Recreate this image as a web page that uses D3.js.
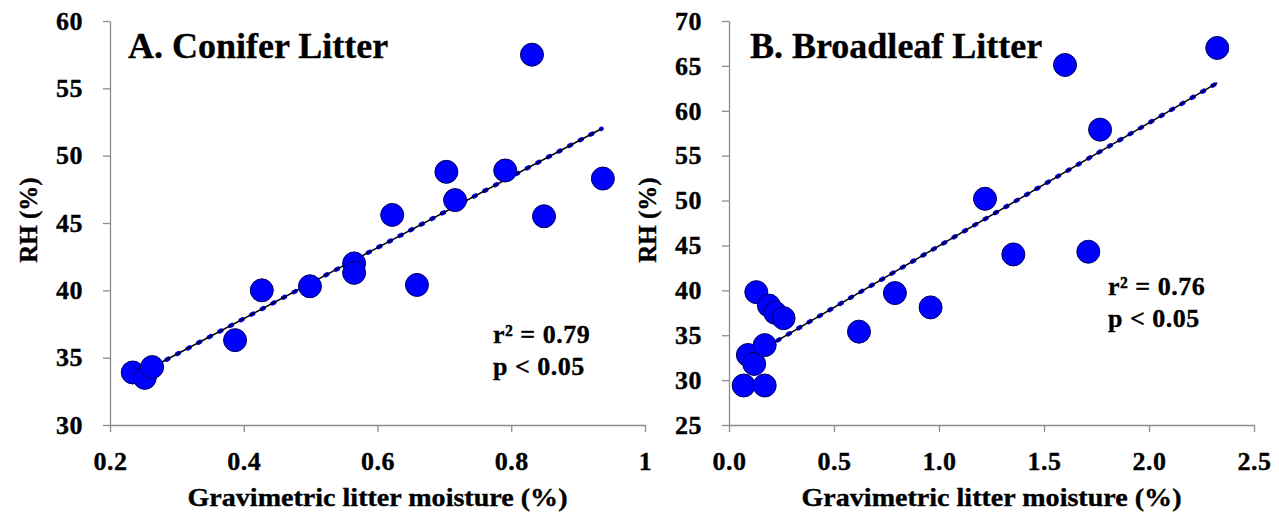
<!DOCTYPE html>
<html>
<head>
<meta charset="utf-8">
<script src="https://cdn.jsdelivr.net/npm/d3@7"></script>
<style>
  body { margin: 0; background: #fff; }
  svg text { font-family: "Liberation Serif", "Times New Roman", serif; font-weight: bold; fill: #000; stroke: #000; stroke-width: 0.35px; }
</style>
</head>
<body>
<div id="chart"></div>
<script>
// panel A - conifer litter
const coniferMoisture = [0.234, 0.252, 0.263, 0.387, 0.427, 0.499, 0.565, 0.565, 0.659, 0.622, 0.703, 0.716, 0.791, 0.831, 0.937, 0.849];
const coniferRH       = [33.9, 33.5, 34.3, 36.3, 40.0, 40.3, 42.0, 41.3, 40.4, 45.6, 48.8, 46.7, 48.9, 57.5, 48.3, 45.5];
const coniferTrendX = [0.237, 0.935];
const coniferTrendY = [33.6, 52.0];
const coniferXTicks = [0.2, 0.4, 0.6, 0.8, 1];
const coniferYTicks = [30, 35, 40, 45, 50, 55, 60];

// panel B - broadleaf litter
const broadleafMoisture = [0.13, 0.19, 0.22, 0.26, 0.09, 0.12, 0.17, 0.07, 0.17, 0.619, 0.790, 0.960, 1.219, 1.354, 1.711, 1.767, 1.60, 2.325];
const broadleafRH       = [39.8, 38.3, 37.5, 36.9, 32.8, 31.8, 33.9, 29.4, 29.4, 35.4, 39.7, 38.1, 50.2, 44.0, 44.3, 57.9, 65.1, 67.0];
const broadleafTrendX = [0.084, 2.325];
const broadleafTrendY = [32.4, 63.1];
const broadleafXTicks = [0.0, 0.5, 1.0, 1.5, 2.0, 2.5];
const broadleafYTicks = [25, 30, 35, 40, 45, 50, 55, 60, 65, 70];

const panelTitles = ["A. Conifer Litter", "B. Broadleaf Litter"];
const statLines = [["r\u00B2 = 0.79", "p < 0.05"], ["r\u00B2 = 0.76", "p < 0.05"]];
const xTitle = "Gravimetric litter moisture (%)";
const yTitle = "RH (%)";

const svg = d3.select('#chart').append('svg')
    .attr('width', 1279)
    .attr('height', 519);

function drawPanel(cfg) {
    const x = d3.scaleLinear().domain(cfg.xDomain).range(cfg.xRange);
    const y = d3.scaleLinear().domain(cfg.yDomain).range([425, 21]);
    const g = svg.append('g');

    const xAxis = g.append('g')
        .attr('transform', `translate(0, ${y(cfg.yDomain[0])})`)
        .call(d3.axisBottom(x).tickValues(cfg.xTicks).tickSize(7).tickPadding(20).tickFormat(cfg.xFormat).tickSizeOuter(0));
    const yAxis = g.append('g')
        .attr('transform', `translate(${x(cfg.xDomain[0])}, 0)`)
        .call(d3.axisLeft(y).tickValues(cfg.yTicks).tickSize(7).tickPadding(20).tickSizeOuter(0));

    [xAxis, yAxis].forEach(a => {
        a.select('.domain').attr('stroke', '#8c8c8c').attr('stroke-width', 1.3);
        a.selectAll('.tick line').attr('stroke', '#8c8c8c').attr('stroke-width', 1.3);
        a.selectAll('.tick text')
            .attr('fill', '#000')
            .style('font-family', '"Liberation Serif", "Times New Roman", serif')
            .style('font-weight', 'bold')
            .style('font-size', '26px')
            .style('letter-spacing', '0.5px');
    });

    // trend line: blue dotted with a thin black line on top
    const trend = cfg.trendX.map((v, i) => [v, cfg.trendY[i]]);
    const line = d3.line().x(d => x(d[0])).y(d => y(d[1]));
    g.append('path').datum(trend)
        .attr('d', line)
        .attr('fill', 'none')
        .attr('stroke', '#0000ff')
        .attr('stroke-width', 4.5)
        .attr('stroke-linecap', 'round')
        .attr('stroke-dasharray', '2,10');
    g.append('path').datum(trend)
        .attr('d', line)
        .attr('fill', 'none')
        .attr('stroke', '#000')
        .attr('stroke-width', 1.5);

    const pts = cfg.xs.map((v, i) => ({x: v, y: cfg.ys[i]}));
    g.selectAll('circle.pt').data(pts).enter().append('circle')
        .attr('class', 'pt')
        .attr('cx', d => x(d.x))
        .attr('cy', d => y(d.y))
        .attr('r', 11.5)
        .attr('fill', '#0000ff')
        .attr('stroke', '#00005a')
        .attr('stroke-width', 1);

    g.append('text')
        .attr('x', cfg.titleX)
        .attr('y', 58)
        .style('font-size', '36px')
        .text(cfg.title);

    cfg.stats.forEach((s, i) => {
        g.append('text')
            .attr('x', cfg.statX)
            .attr('y', cfg.statY + i * 32)
            .style('font-size', '26px')
            .style('letter-spacing', '0.5px')
            .text(s);
    });

    g.append('text')
        .attr('x', (cfg.xRange[0] + cfg.xRange[1]) / 2 - 190)
        .attr('y', 506)
        .attr('textLength', 380)
        .attr('lengthAdjust', 'spacingAndGlyphs')
        .style('font-size', '25px')
        .text(xTitle);

    g.append('text')
        .attr('text-anchor', 'middle')
        .attr('transform', `translate(${cfg.yTitleX}, 220) rotate(-90)`)
        .style('font-size', '25px')
        .text(yTitle);
}

drawPanel({
    xDomain: [0.2, 1], xRange: [110, 645], yDomain: [30, 60],
    xTicks: coniferXTicks, yTicks: coniferYTicks, xFormat: d3.format('~g'),
    xs: coniferMoisture, ys: coniferRH, trendX: coniferTrendX, trendY: coniferTrendY,
    title: panelTitles[0], titleX: 128, stats: statLines[0], statX: 493, statY: 343, yTitleX: 37
});

drawPanel({
    xDomain: [0, 2.5], xRange: [729, 1254], yDomain: [25, 70],
    xTicks: broadleafXTicks, yTicks: broadleafYTicks, xFormat: d3.format('.1f'),
    xs: broadleafMoisture, ys: broadleafRH, trendX: broadleafTrendX, trendY: broadleafTrendY,
    title: panelTitles[1], titleX: 750, stats: statLines[1], statX: 1108, statY: 295, yTitleX: 656
});
</script>
</body>
</html>
